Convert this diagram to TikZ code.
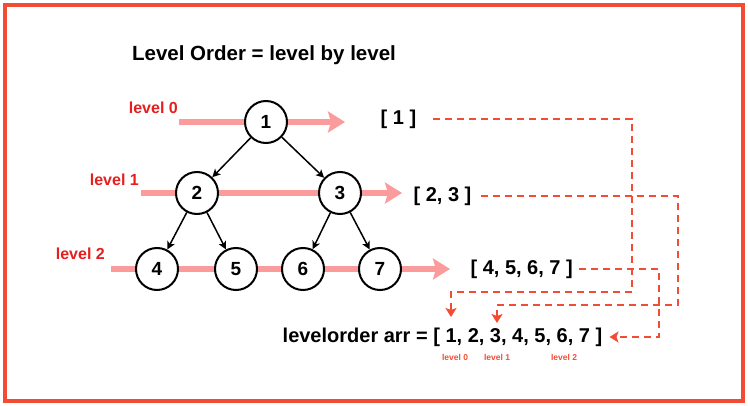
\documentclass[tikz,border=0pt]{standalone}
\usepackage{fontspec}
\setmainfont{Liberation Sans}
\definecolor{levelred}{RGB}{230,30,30}
\definecolor{dashred}{RGB}{243,76,52}
\definecolor{levelpink}{RGB}{252,155,155}
\usetikzlibrary{arrows.meta,shapes,positioning}
\tikzset{
	treenode/.style={
		circle,
		line width=2pt,
		draw=black,
		fill=white,
		minimum size=42pt,
		inner sep=0pt,
		font=\fontsize{19}{22}\selectfont\bfseries
	},
	treearrow/.style={
		draw=black,
		line width=1.5pt,
		-{Stealth[length=8pt,width=8pt,inset=2pt]}
	},
	levelarrow/.style={
		draw=levelpink,
		line width=6pt,
		-{Stealth[length=17pt,width=21pt,inset=3pt]}
	},
	dashline/.style={
		draw=dashred,
		line width=1.8pt,
		dash pattern=on 7pt off 5pt,
		-{Stealth[length=9pt,width=11pt,inset=2pt]}
	},
	bracket/.style={
		inner sep=2pt,
		font=\fontsize{20}{24}\selectfont\bfseries
	},
	levellabel/.style={
		text=levelred,
		inner sep=0pt,
		font=\fontsize{16}{19}\selectfont\bfseries
	},
	smalllabel/.style={
		text=dashred,
		inner sep=0pt,
		font=\fontsize{8.5}{10}\selectfont\bfseries
	},
}

\begin{document}
\begin{tikzpicture}[x=1pt,y=-1pt]
		\useasboundingbox (0,0) rectangle (748,406);
		\draw [draw=dashred,line width=3.5pt] (5,5) rectangle (743,401);
		\node (title) [bracket,font=\fontsize{20.5}{24}\selectfont\bfseries] at (264,55) {Level Order = level by level};
		\draw [levelarrow] (179,122) coordinate (start0) -- (345,122);
		\draw [levelarrow] (141,193) coordinate (start1) -- (402,193);
		\draw [levelarrow] (111,269) coordinate (start2) -- (450,269);
		\node (label0) [levellabel,anchor=south east] at ([xshift=-1pt,yshift=8pt]start0) {level 0};
		\node (label1) [levellabel,anchor=south east] at ([xshift=-2pt,yshift=7pt]start1) {level 1};
		\node (label2) [levellabel,anchor=south east] at ([xshift=-6pt,yshift=9pt]start2) {level 2};
		\node (n1) [treenode] at (266,122) {1};
		\node (n2) [treenode] at (197,193) {2};
		\node (n3) [treenode] at (340,193) {3};
		\node (n4) [treenode] at (157,269) {4};
		\node (n5) [treenode] at (236,269) {5};
		\node (n6) [treenode] at (303,269) {6};
		\node (n7) [treenode] at (380,269) {7};
		\draw [treearrow] (n1) -- (n2);
		\draw [treearrow] (n1) -- (n3);
		\draw [treearrow] (n2) -- (n4);
		\draw [treearrow] (n2) -- (n5);
		\draw [treearrow] (n3) -- (n6);
		\draw [treearrow] (n3) -- (n7);
		\node (row0) [bracket] at (398.5,119) {[ 1 ]};
		\node (row1) [bracket] at (442.5,196) {[ 2, 3 ]};
		\node (row2) [bracket] at (521.7,269) {[ 4, 5, 6, 7 ]};
		\node (arr) [bracket] at (442.5,337) {levelorder arr = [ 1, 2, 3, 4, 5, 6, 7 ]};
		\coordinate (into0) at (451,317);
		\coordinate (into1) at (497,323);
		\draw [dashline] ([xshift=15pt]row0.east) -| (632,292) -| (into0);
		\draw [dashline] ([xshift=7pt]row1.east) -| (678,305) -| (into1);
		\draw [dashline] ([xshift=4pt]row2.east) -| (659,337) -- ([xshift=5pt]arr.east);
		\node (lev0) [smalllabel] at (455,357) {level 0};
		\node (lev1) [smalllabel] at (497,357) {level 1};
		\node (lev2) [smalllabel] at (564,357) {level 2};
\end{tikzpicture}
\end{document}
